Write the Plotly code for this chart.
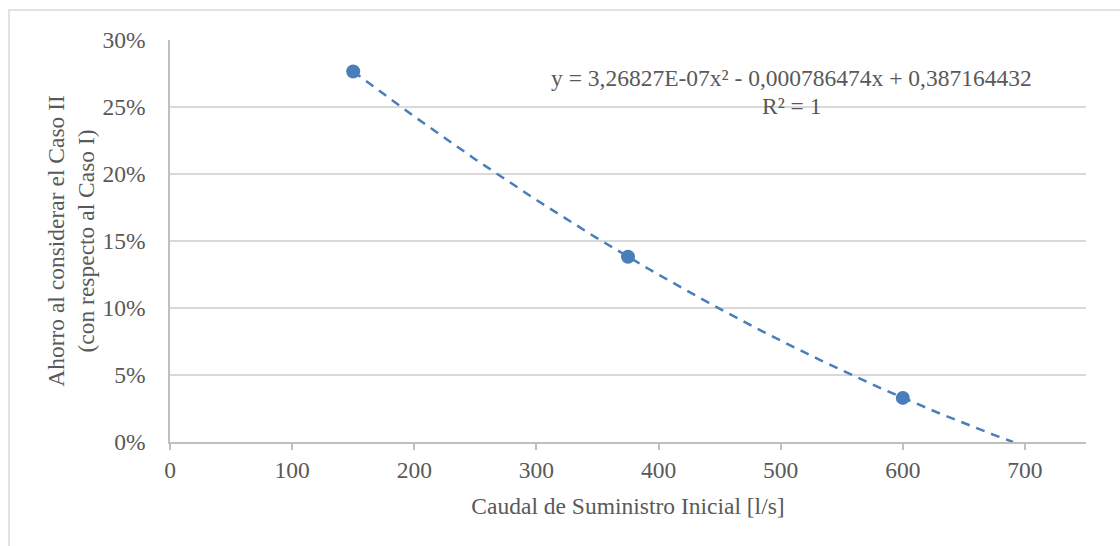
import numpy as np
import plotly.graph_objects as go

# Caudal de suministro inicial [l/s] y ahorro relativo (fracción)
caudal = [150, 375, 600]
ahorro = [0.2765, 0.1382, 0.0329]

# Coeficientes de la línea de tendencia polinómica (orden 2)
coef_a = 3.26827e-07
coef_b = -0.000786474
coef_c = 0.387164432
trend_x_start = 150
trend_x_end = 690.3

x_ticks = [0, 100, 200, 300, 400, 500, 600, 700]
y_ticks = [0, 0.05, 0.10, 0.15, 0.20, 0.25, 0.30]

FONT = "Liberation Serif, Times New Roman, serif"
TXT = "#595959"
BLUE = "#4a7ebb"
FS = 23.5

xt = np.linspace(trend_x_start, trend_x_end, 200)
yt = coef_a * xt**2 + coef_b * xt + coef_c

fig = go.Figure()
fig.add_trace(go.Scatter(
    x=xt, y=yt, mode="lines",
    line=dict(color=BLUE, width=2.5, dash="9px,7px"),
    hoverinfo="skip", showlegend=False,
))
fig.add_trace(go.Scatter(
    x=caudal, y=ahorro, mode="markers",
    marker=dict(color=BLUE, size=14),
    showlegend=False,
))

eq_font = dict(size=FS, color=TXT, family=FONT)

fig.update_layout(
    width=1120, height=546,
    margin=dict(l=170, r=34, t=40, b=104),
    paper_bgcolor="white", plot_bgcolor="white",
    font=dict(family=FONT, color=TXT, size=FS),
    xaxis=dict(
        range=[0, 750], tickvals=x_ticks,
        showgrid=False, zeroline=False,
        showline=True, linecolor="#bfbfbf", linewidth=1.5,
        ticks="outside", ticklen=6, tickcolor="#bfbfbf", tickwidth=1.5,
        tickfont=dict(size=FS, color=TXT),
        title=dict(text="Caudal de Suministro Inicial [l/s]",
                   font=dict(size=FS, color=TXT), standoff=16),
    ),
    yaxis=dict(
        range=[0, 0.30], tickvals=y_ticks, tickformat=".0%",
        showgrid=True, gridcolor="#d9d9d9", gridwidth=1.5,
        zeroline=False,
        showline=True, linecolor="#bfbfbf", linewidth=1.5,
        ticks="", ticklabelstandoff=18,
        tickfont=dict(size=FS, color=TXT),
        title=dict(text="Ahorro al considerar el Caso II<br>(con respecto al Caso I)",
                   font=dict(size=FS, color=TXT), standoff=1),
    ),
    annotations=[
        dict(x=0.679, y=1 - 38 / 402, xref="paper", yref="paper",
             xanchor="center", yanchor="middle", borderpad=0,
             text="y = 3,26827E-07x² - 0,000786474x + 0,387164432",
             showarrow=False, font=eq_font),
        dict(x=0.679, y=1 - 66 / 402, xref="paper", yref="paper",
             xanchor="center", yanchor="middle", borderpad=0,
             text="R² = 1", showarrow=False, font=eq_font),
    ],
    shapes=[dict(
        type="rect", xref="paper", yref="paper",
        x0=-161 / 916, x1=1.1, y0=-0.3, y1=1 + 30 / 402,
        line=dict(color="#d9d9d9", width=1.5), layer="below",
    )],
)

fig.write_html("out.html")
